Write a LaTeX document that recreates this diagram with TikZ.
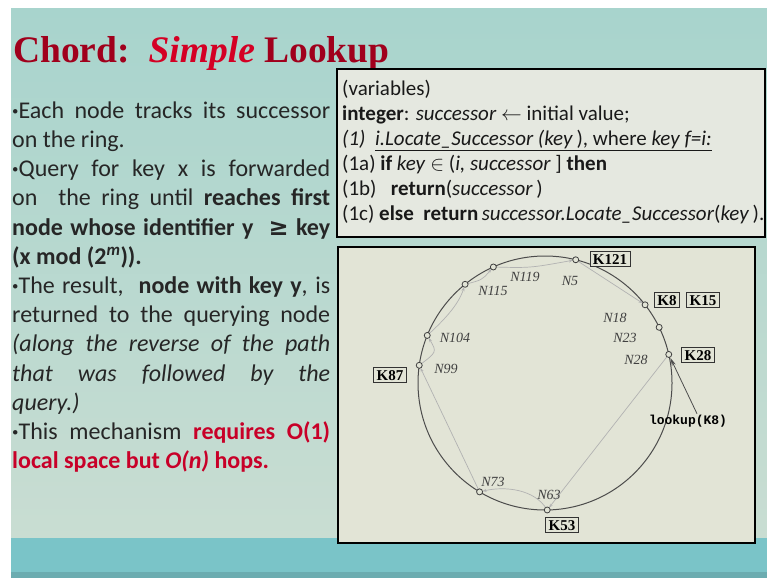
\documentclass[tikz,border=0pt]{standalone}
\usepackage{fontspec}
\setmainfont{Carlito}
\newfontfamily\titlefont{Liberation Serif}
\newfontfamily\ringfont{Liberation Serif}
\newfontfamily\lookfont{Liberation Mono}
\newfontfamily\symfont{DejaVu Sans}
\usepackage{xcolor}
\usepackage{tikz}
\usetikzlibrary{positioning, calc, arrows.meta}

\definecolor{slidetop}{RGB}{168,212,205}
\definecolor{slidebot}{RGB}{201,221,210}
\definecolor{bandteal}{RGB}{122,196,200}
\definecolor{titlered}{RGB}{160,0,28}
\definecolor{brightred}{RGB}{212,0,36}
\definecolor{textred}{RGB}{200,0,40}
\definecolor{codefill}{RGB}{229,232,224}
\definecolor{ringfill}{RGB}{226,228,214}

\newcommand{\dotmark}{\textbf{·}}

\begin{document}
\begin{tikzpicture}[x=1pt, y=-1pt,
        keybox/.style={draw=black!80, line width=0.8pt, fill=ringfill,
            font=\ringfont\bfseries\fontsize{15}{15}\selectfont,
            inner xsep=3pt, inner ysep=2.5pt, text height=10pt, text depth=0pt},
        nodelabel/.style={font=\ringfont\itshape\fontsize{14}{14}\selectfont,
            text=black!75, inner sep=0pt},
        ringnode/.style={draw=black!75, line width=0.8pt, fill=ringfill},
        hop/.style={draw=black!30, line width=0.7pt, shorten >=3pt,
            -{Stealth[length=4pt,width=3pt]}}]
            \newcommand{\Radius}{127}
            \useasboundingbox (0,0) rectangle (767,578);

            \fill[white] (0,0) rectangle (767,578);
            \shade[top color=slidetop, bottom color=slidebot] (11,9) rectangle (767,538);% Slide
            \fill[bandteal] (11,538) rectangle (767,572);
            \fill[bandteal!88!black] (11,572) rectangle (767,578);

            \node[anchor=base west, inner sep=0pt,
                font=\titlefont\bfseries\fontsize{37.5}{37.5}\selectfont] (title) at (13,63)
                {\textcolor{titlered}{Chord:}\ \ \textcolor{brightred}{\itshape Simple} \textcolor{titlered}{Lookup}};

            \node[anchor=north west, text width=318pt, align=justify, inner sep=0pt,
                font=\fontsize{24}{29.2}\selectfont, text=black!85] (body) at (12,101.5) {%
                \hyphenpenalty=10000\emergencystretch=20pt
                \dotmark Each node tracks its successor\linebreak on the ring.\par
                \dotmark Query for key x is forwarded\linebreak on \ the ring until \textbf{reaches first}\linebreak
                \textbf{node whose identifier y \ {\symfont ≥} key}\linebreak \textbf{(x mod (2\textsuperscript{\itshape m})).}\par
                \dotmark The result, \ \textbf{node with key y}, is\linebreak returned to the querying node\linebreak
                \textit{(along the reverse of the path\linebreak that was followed by the\linebreak query.)}\par
                \dotmark This mechanism \textcolor{textred}{\textbf{requires O(1)}}\linebreak
                \textcolor{textred}{\textbf{local space but \textit{O(n)} hops.}}\par};

            \draw[line width=2.5pt, fill=codefill] (337,69) rectangle (765,237);% Code Box
            \node[anchor=north west, align=left, inner sep=0pt,
                font=\fontsize{21}{25}\selectfont, text=black!90] (code) at (342,80) {%
                (variables)\\
                \textbf{integer}: \textit{successor} $\leftarrow$ initial value;\\
                \textit{(1)}\ \ \underline{\textit{i.Locate\_Successor (key}\,), where \textit{key f=i:}}\\
                (1a) \textbf{if} \textit{key} $\in$ (\textit{i, successor} ] \textbf{then}\\
                (1b) \ \ \textbf{return}(\textit{successor}\,)\\
                (1c) \textbf{else} \ \textbf{return}\,\textit{successor.Locate\_Successor}(\textit{key}\,).};

            \draw[line width=2.5pt, fill=ringfill] (338,247) rectangle (755,543);% Ring Box

            \coordinate (O) at (545,383);
            \coordinate (N5) at ($(O)+(-76:\Radius)$);
            \coordinate (N18) at ($(O)+(-38:\Radius)$);
            \coordinate (N23) at ($(O)+(-26:\Radius)$);
            \coordinate (N28) at ($(O)+(-13:\Radius)$);
            \coordinate (N63) at ($(O)+(89:\Radius)$);
            \coordinate (N73) at ($(O)+(121:\Radius)$);
            \coordinate (N99) at ($(O)+(-172:\Radius)$);
            \coordinate (N104) at ($(O)+(-158:\Radius)$);
            \coordinate (N115) at ($(O)+(-129:\Radius)$);
            \coordinate (N119) at ($(O)+(-114:\Radius)$);

            % lookup path
            \draw[hop] (N28) -- (N63);
            \draw[hop] (N63) .. controls (535,489) and (505,486) .. (N73);
            \draw[hop] (N73) -- (N99);
            \draw[hop] (N99) .. controls (437,352) .. (N104);
            \draw[hop] (N104) .. controls (442,322) and (458,306) .. (N115);
            \draw[hop] (N115) .. controls (482,280) .. (N119);
            \draw[hop] (N119) .. controls (530,268) .. (N5);
            \draw[hop] (N5) -- (N18);

            \draw[black!70, line width=1pt] (O) circle (\Radius);
            \foreach \n in {N5, N18, N23, N28, N63, N73, N99, N104, N115, N119}
                \draw[ringnode] (\n) circle (3);

            \node[keybox] (K121) at (610,259) {K121};
            \node[keybox] (K8) at (667,300) {K8};
            \node[keybox] (K15) at (703,300) {K15};
            \node[keybox] (K28) at (698,355) {K28};
            \node[keybox] (K87) at (390,375) {K87};
            \node[keybox] (K53) at (562,525) {K53};

            \node[nodelabel] (l119) at (525,277) {N119};
            \node[nodelabel] (l5) at (570,281) {N5};
            \node[nodelabel] (l115) at (493,291) {N115};
            \node[nodelabel] (l104) at (455,338) {N104};
            \node[nodelabel] (l99) at (446,369) {N99};
            \node[nodelabel] (l18) at (615,318) {N18};
            \node[nodelabel] (l23) at (625,338) {N23};
            \node[nodelabel] (l28) at (636,360) {N28};
            \node[nodelabel] (l73) at (493,482) {N73};
            \node[nodelabel] (l63) at (549,495) {N63};

            \node[font=\lookfont\bfseries\fontsize{13}{13}\selectfont, inner sep=1pt] (lookup) at (688,421) {lookup(K8)};
            \draw[black!70, line width=0.8pt, shorten >=4pt, -{Stealth[length=8pt,width=4pt]}]
                ([xshift=9pt]lookup.north) -- (N28);
        \end{tikzpicture}
\end{document}
